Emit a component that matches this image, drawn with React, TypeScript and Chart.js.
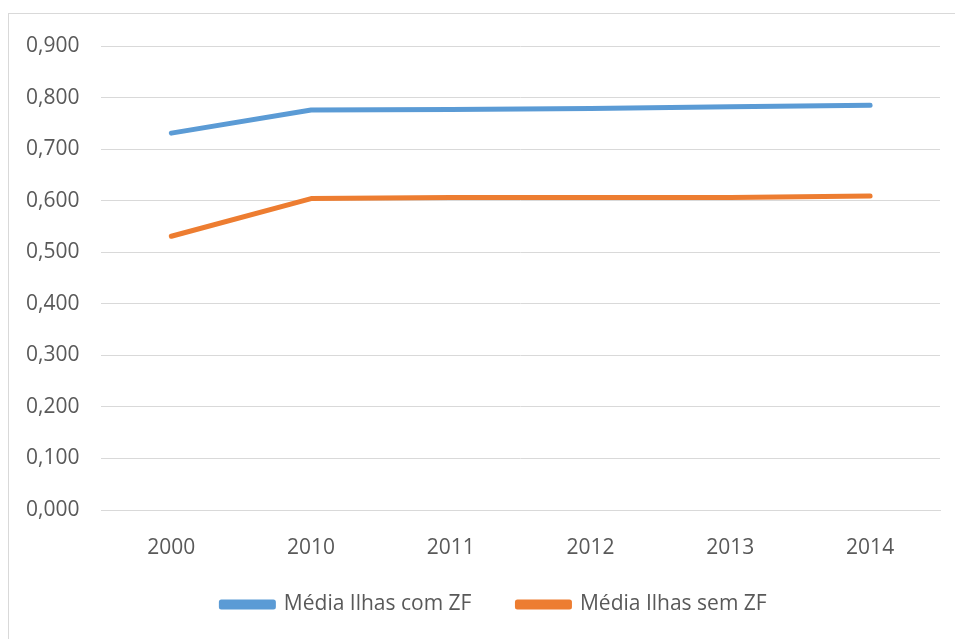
import React, { useEffect, useRef } from "react";
import { Chart, registerables } from "chart.js";

Chart.register(...registerables);

const categories = ["2000", "2010", "2011", "2012", "2013", "2014"];
const comZF = [0.731, 0.776, 0.777, 0.779, 0.782, 0.785];
const semZF = [0.531, 0.604, 0.606, 0.606, 0.606, 0.609];
const seriesNames = ["Média Ilhas com ZF", "Média Ilhas sem ZF"];
const yMin = 0;
const yMax = 0.9;
const yStep = 0.1;

const FONT = "'Open Sans', 'Noto Sans', sans-serif";

const legendShift = {
  id: "legendShift",
  afterLayout(chart: any) {
    const lg = chart.legend;
    if (lg) {
      lg.left += 22;
      lg.right += 22;
      lg.top -= 14;
      lg.bottom -= 14;
    }
  },
};

export default function App() {
  const ref = useRef<HTMLCanvasElement | null>(null);
  useEffect(() => {
    if (!ref.current) return;
    const chart = new Chart(ref.current, {
      type: "line",
      data: {
        labels: categories,
        datasets: [
          {
            label: seriesNames[0],
            data: comZF,
            borderColor: "#5B9BD5",
            backgroundColor: "#5B9BD5",
            borderWidth: 5,
            pointRadius: 0,
            tension: 0,
            borderCapStyle: "round",
            borderJoinStyle: "round",
          },
          {
            label: seriesNames[1],
            data: semZF,
            borderColor: "#ED7D31",
            backgroundColor: "#ED7D31",
            borderWidth: 5,
            pointRadius: 0,
            tension: 0,
            borderCapStyle: "round",
            borderJoinStyle: "round",
          },
        ],
      },
      options: {
        animation: false,
        responsive: false,
        maintainAspectRatio: false,
        layout: { padding: { left: 4, right: 15, top: 46, bottom: 0 } },
        plugins: {
          tooltip: { enabled: false },
          legend: {
            position: "bottom",
            labels: {
              boxWidth: 52,
              boxHeight: 5,
              padding: 46,
              color: "#595959",
              font: { family: FONT, size: 21 },
            },
          },
        },
        scales: {
          x: {
            offset: true,
            grid: { display: false, drawTicks: false },
            border: { display: true, color: "#d9d9d9", width: 1 },
            ticks: {
              color: "#595959",
              padding: 25,
              font: { family: FONT, size: 21 },
            },
            afterFit: (scale: any) => {
              scale.height = 52;
            },
          },
          y: {
            min: yMin,
            max: yMax,
            grid: { color: "#d9d9d9", lineWidth: 1, drawTicks: false },
            border: { display: false },
            ticks: {
              stepSize: yStep,
              color: "#595959",
              padding: 22,
              font: { family: FONT, size: 21 },
              callback: (v: any) => Number(v).toFixed(3).replace(".", ","),
            },
          },
        },
      },
      plugins: [legendShift],
    });
    return () => chart.destroy();
  }, []);
  return (
    <div style={{ position: "fixed", left: 0, top: 0, width: 955, height: 639, background: "#fff", overflow: "hidden" }}>
      <div
        style={{
          position: "absolute",
          left: 8,
          top: 13,
          width: 1000,
          height: 700,
          border: "1px solid #d9d9d9",
          boxSizing: "border-box",
        }}
      />
      <canvas ref={ref} width={955} height={639} style={{ position: "absolute", left: 0, top: 0 }} />
    </div>
  );
}
